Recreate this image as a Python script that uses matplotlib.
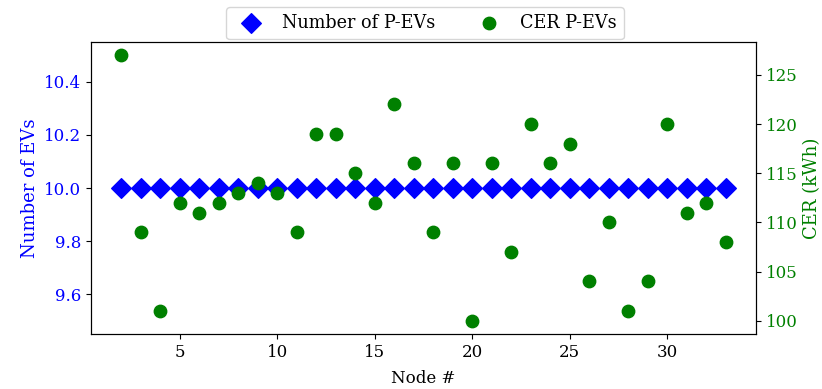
import matplotlib
matplotlib.use("Agg")
import matplotlib.pyplot as plt

plt.rcParams['font.family'] = ['DejaVu Serif']

nodes = list(range(2, 34))
num_evs = [10] * len(nodes)
cer = [127, 109, 101, 112, 111, 112, 113, 114, 113, 109, 119, 119, 115, 112,
       122, 116, 109, 116, 100, 116, 107, 120, 116, 118, 104, 110, 101, 104,
       120, 111, 112, 108]

fig = plt.figure(figsize=(8.22, 3.89), dpi=100)
ax = fig.add_axes([91/822, 1 - 334/389, (756-91)/822, (334-42)/389])
ax2 = ax.twinx()

h1 = ax.scatter(nodes, num_evs, marker='D', s=100, color='blue', label='Number of P-EVs', zorder=3)
h2 = ax2.scatter(nodes, cer, marker='o', s=80, color='green', label='CER P-EVs', zorder=3)

ax.set_xticks([5, 10, 15, 20, 25, 30])
ax.set_yticks([9.6, 9.8, 10.0, 10.2, 10.4])
ax2.set_yticks([100, 105, 110, 115, 120, 125])
ax.tick_params(axis='x', labelsize=12)
ax.tick_params(axis='y', labelsize=12, labelcolor='blue')
ax2.tick_params(axis='y', labelsize=12, labelcolor='green')
ax.set_xlabel('Node #', fontsize=12, labelpad=7)
ax.set_ylabel('Number of EVs', fontsize=13, color='blue')
ax2.set_ylabel('CER (kWh)', fontsize=13, color='green')

fig.legend([h1, h2], ['Number of P-EVs', 'CER P-EVs'], loc='upper center',
           bbox_to_anchor=(425/822, 1 - 7/389), ncol=2, fontsize=12.7,
           borderaxespad=0)

fig.savefig('out.png', dpi=100)
